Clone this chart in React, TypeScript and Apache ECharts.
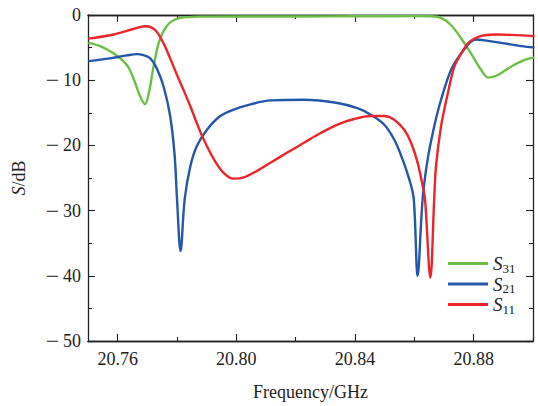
import React, { useEffect, useRef } from "react";
import * as echarts from "echarts";

const s31Freq = [20.7501, 20.7541, 20.7586, 20.7631, 20.7653, 20.7676, 20.7692, 20.7704, 20.7721, 20.7738, 20.7755, 20.7778, 20.7811, 20.7879, 20.80, 20.82, 20.84, 20.86, 20.8656, 20.869, 20.8724, 20.8758, 20.8791, 20.8825, 20.885, 20.8882, 20.8927, 20.8972, 20.9005];
const s31Val = [-4.27, -4.77, -5.88, -7.67, -9.7, -12.5, -13.66, -12.2, -7.9, -4.36, -2.43, -1.1, -0.45, -0.25, -0.22, -0.22, -0.2, -0.18, -0.2, -0.45, -1.57, -3.6, -5.9, -8.4, -9.6, -9.2, -7.9, -6.9, -6.5];

const s21Freq = [20.7501, 20.7574, 20.7631, 20.7665, 20.7687, 20.771, 20.7732, 20.7755, 20.7777, 20.7792, 20.78, 20.7812, 20.7826, 20.7845, 20.7867, 20.7901, 20.7946, 20.7991, 20.8048, 20.8115, 20.8228, 20.8341, 20.8408, 20.8453, 20.8498, 20.8532, 20.856, 20.8583, 20.8598, 20.8611, 20.8628, 20.8645, 20.8667, 20.869, 20.8724, 20.8758, 20.8791, 20.8808, 20.8848, 20.8904, 20.896, 20.9005];
const s21Val = [-7.07, -6.65, -6.2, -6.0, -6.15, -6.65, -8.2, -11.0, -15.5, -21.5, -28.2, -36.2, -28.2, -23.2, -20.1, -17.6, -15.5, -14.5, -13.7, -13.1, -13.0, -13.5, -14.3, -15.3, -16.8, -19.1, -22.1, -25.2, -28.2, -40.0, -28.2, -22.1, -17.1, -13.0, -8.4, -5.9, -4.1, -3.75, -3.96, -4.36, -4.77, -4.97];

const s11Freq = [20.7501, 20.7574, 20.7631, 20.7665, 20.7693, 20.7715, 20.7732, 20.7755, 20.7777, 20.78, 20.7822, 20.7845, 20.7867, 20.789, 20.7924, 20.7957, 20.7991, 20.8025, 20.807, 20.8115, 20.8172, 20.8228, 20.8284, 20.8341, 20.8397, 20.8453, 20.8498, 20.8532, 20.8566, 20.8589, 20.8611, 20.8628, 20.8636, 20.8654, 20.8667, 20.8673, 20.869, 20.8713, 20.8735, 20.8758, 20.878, 20.8803, 20.8836, 20.8882, 20.8927, 20.9005];
const s11Val = [-3.63, -3.1, -2.43, -1.98, -1.72, -1.93, -2.59, -4.37, -6.65, -9.2, -11.5, -14.0, -16.6, -19.1, -22.1, -24.2, -25.1, -24.9, -23.9, -22.65, -21.1, -19.6, -18.1, -16.8, -15.95, -15.5, -15.5, -16.05, -17.6, -19.6, -22.65, -26.2, -28.2, -40.3, -28.2, -23.2, -17.1, -12.0, -7.9, -5.9, -4.37, -3.6, -3.1, -3.0, -3.05, -3.25];

const seriesNames = ["S31", "S21", "S11"];
const seriesColors = ["#6bbf45", "#2457a8", "#e8262b"];
const xMajorTicks = [20.76, 20.8, 20.84, 20.88];
const xMinorTicks = [20.78, 20.82, 20.86, 20.9];

const FONT = "Liberation Serif";
const AXIS_COLOR = "#222";

function pairs(xs: number[], ys: number[]) {
  return xs.map((x, i) => [x, ys[i]]);
}

function fmtY(v: number) {
  if (v < 0) return "{m|\u2212}\u2009{n|" + Math.abs(v) + "}";
  return "{n|" + v + "}";
}

export default function App() {
  const ref = useRef<HTMLDivElement>(null);
  useEffect(() => {
    document.body.style.margin = "0";
    const chart = echarts.init(ref.current!, null, { renderer: "svg" });
    const axisLine = { show: true, onZero: false, lineStyle: { color: AXIS_COLOR, width: 1.3 } };
    const xBase = {
      type: "value",
      min: 20.75,
      max: 20.9,
      gridIndex: 0,
      splitLine: { show: false },
      axisLine,
    };
    const yBase = {
      type: "value",
      min: -50,
      max: 0,
      interval: 10,
      splitLine: { show: false },
      axisLine,
      minorTick: { show: true, splitNumber: 2, length: 4, lineStyle: { color: AXIS_COLOR, width: 1.1 } },
      axisTick: { show: true, inside: true, length: 7, lineStyle: { color: AXIS_COLOR, width: 1.1 } },
    };
    const dataSets = [pairs(s31Freq, s31Val), pairs(s21Freq, s21Val), pairs(s11Freq, s11Val)];
    const subs = ["31", "21", "11"];
    chart.setOption({
      animation: false,
      grid: { left: 88, top: 15, right: 5, bottom: 63, containLabel: false },
      legend: {
        data: seriesNames.map((n, i) => ({ name: n, icon: "rect", itemStyle: { color: seriesColors[i] } })),
        orient: "vertical",
        left: 443,
        top: 249,
        itemWidth: 40,
        itemHeight: 3,
        itemGap: 0,
        textStyle: {
          fontFamily: FONT,
          color: "#222",
          rich: {
            i: { fontFamily: FONT, fontStyle: "italic", fontSize: 19, lineHeight: 22, color: "#222" },
            sub: { fontFamily: FONT, fontSize: 13, lineHeight: 11, verticalAlign: "bottom", color: "#222" },
          },
        },
        formatter: (name: string) => "{i|S}{sub|" + subs[seriesNames.indexOf(name)] + "}",
      },
      xAxis: [
        {
          ...xBase,
          position: "bottom",
          name: "Frequency/GHz",
          nameLocation: "middle",
          nameGap: 42,
          nameTextStyle: { fontFamily: FONT, fontSize: 18, color: "#222" },
          axisTick: { show: true, inside: true, length: 7, customValues: xMajorTicks, lineStyle: { color: AXIS_COLOR, width: 1.1 } },
          axisLabel: { show: true, customValues: xMajorTicks, fontFamily: FONT, fontSize: 18, color: "#222", margin: 9, formatter: (v: number) => v.toFixed(2) },
        },
        {
          ...xBase,
          position: "bottom",
          axisTick: { show: true, inside: true, length: 4, customValues: xMinorTicks, lineStyle: { color: AXIS_COLOR, width: 1.1 } },
          axisLabel: { show: false },
        },
        {
          ...xBase,
          position: "top",
          axisTick: { show: true, inside: true, length: 7, customValues: xMajorTicks, lineStyle: { color: AXIS_COLOR, width: 1.1 } },
          axisLabel: { show: false },
        },
        {
          ...xBase,
          position: "top",
          axisTick: { show: true, inside: true, length: 4, customValues: xMinorTicks, lineStyle: { color: AXIS_COLOR, width: 1.1 } },
          axisLabel: { show: false },
        },
      ],
      yAxis: [
        {
          ...yBase,
          position: "left",
          name: "{i|S}/dB",
          nameLocation: "middle",
          nameGap: 60,
          nameRotate: 90,
          nameTextStyle: {
            fontFamily: FONT,
            fontSize: 18,
            color: "#222",
            rich: { i: { fontFamily: FONT, fontStyle: "italic", fontSize: 18, color: "#222" } },
          },
          axisLabel: {
            fontFamily: FONT,
            fontSize: 18,
            color: "#222",
            margin: 7,
            formatter: fmtY,
            rich: {
              m: { fontFamily: FONT, fontSize: 24, color: "#222" },
              n: { fontFamily: FONT, fontSize: 18, color: "#222" },
            },
          },
        },
        {
          ...yBase,
          position: "right",
          axisLabel: { show: false },
        },
      ],
      series: dataSets.map((d, i) => ({
        name: seriesNames[i],
        type: "line",
        xAxisIndex: 0,
        yAxisIndex: 0,
        data: d,
        symbol: "none",
        smooth: 0.35,
        lineStyle: { color: seriesColors[i], width: 2.4 },
        itemStyle: { color: seriesColors[i] },
        z: 2 + i,
      })),
    });
    return () => chart.dispose();
  }, []);
  return <div ref={ref} style={{ width: 538, height: 406 }} />;
}
